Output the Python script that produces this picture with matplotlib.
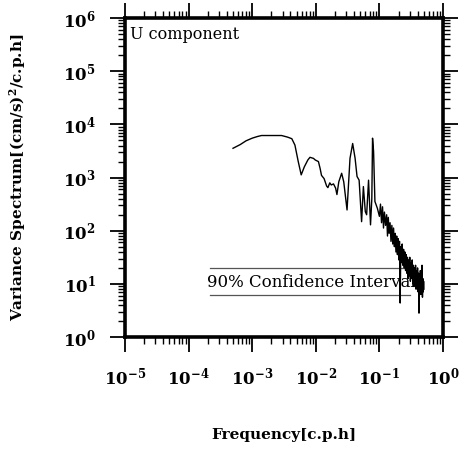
import numpy as np
import matplotlib
matplotlib.use("Agg")
import matplotlib.pyplot as plt
from matplotlib.ticker import LogLocator, FixedLocator, NullFormatter

plt.rcParams['font.family'] = ['DejaVu Serif']
plt.rcParams['mathtext.fontset'] = 'dejavuserif'

# spectrum: frequency [c.p.h] and log10 of variance
freq = [5.0e-4, 6.5e-4, 8.0e-4, 1.0e-3, 1.2e-3, 1.4e-3, 2.0e-3, 2.9e-3, 3.6e-3, 4.2e-3,
        4.7e-3, 5.3e-3, 5.9e-3, 6.6e-3, 7.5e-3, 8.1e-3, 9.2e-3, 9.8e-3, 1.10e-2, 1.17e-2,
        1.23e-2, 1.35e-2, 1.48e-2, 1.55e-2, 1.66e-2, 1.75e-2, 1.90e-2, 2.05e-2, 2.15e-2, 2.30e-2,
        2.55e-2, 2.75e-2, 3.10e-2, 3.45e-2, 3.80e-2, 4.15e-2, 4.45e-2, 4.80e-2, 5.25e-2, 5.60e-2,
        6.00e-2, 6.30e-2, 6.75e-2, 7.25e-2, 7.60e-2, 7.80e-2, 8.10e-2, 8.50e-2, 9.30e-2, 0.100,
        0.104, 0.108, 0.112, 0.116, 0.120, 0.125, 0.130, 0.134, 0.138, 0.142,
        0.147, 0.152, 0.157, 0.162, 0.167, 0.172, 0.177, 0.182, 0.187, 0.192,
        0.197, 0.202, 0.207, 0.212, 0.217, 0.222, 0.228, 0.234, 0.240, 0.246,
        0.252, 0.258, 0.264, 0.270, 0.276, 0.282, 0.288, 0.294, 0.300, 0.307,
        0.314, 0.321, 0.328, 0.335, 0.342, 0.349, 0.356, 0.363, 0.370, 0.377,
        0.384, 0.391, 0.398, 0.405, 0.412, 0.419, 0.426, 0.433, 0.440, 0.447,
        0.454, 0.461, 0.468, 0.475, 0.482, 0.489, 0.495, 0.500]
log_spec = [3.55, 3.62, 3.69, 3.74, 3.77, 3.79, 3.79, 3.79, 3.76, 3.73,
            3.61, 3.30, 3.05, 3.20, 3.33, 3.38, 3.36, 3.33, 3.30, 3.17,
            3.04, 2.98, 2.84, 2.81, 2.90, 2.86, 2.88, 2.80, 2.68, 2.92,
            3.08, 2.92, 2.39, 3.36, 3.64, 3.36, 3.02, 2.95, 2.17, 2.83,
            2.36, 2.30, 2.95, 2.11, 2.60, 3.74, 3.49, 2.55, 2.42, 2.27,
            2.50, 2.15, 2.45, 2.05, 2.35, 2.10, 2.30, 1.90, 2.25, 1.95,
            2.15, 1.80, 2.10, 1.75, 2.05, 1.70, 1.95, 1.60, 1.90, 1.55,
            1.85, 1.45, 1.80, 0.64, 1.70, 1.40, 1.75, 1.35, 1.65, 1.30,
            1.60, 1.25, 1.55, 1.20, 1.50, 1.10, 1.45, 1.15, 1.50, 1.05,
            1.40, 1.10, 1.45, 1.00, 1.35, 0.95, 1.30, 1.00, 1.35, 0.90,
            1.25, 0.95, 1.30, 0.85, 1.20, 0.45, 1.15, 0.85, 1.25, 0.80,
            1.10, 0.85, 1.35, 0.75, 1.10, 0.85, 1.05, 0.90]

ci_freq = [2.2e-4, 0.3]
ci_upper = 20
ci_lower = 6.2

x_ticks = [1e-5, 1e-4, 1e-3, 1e-2, 1e-1, 1e0]
x_labels = [r'$\mathbf{10^{-5}}$', r'$\mathbf{10^{-4}}$', r'$\mathbf{10^{-3}}$',
            r'$\mathbf{10^{-2}}$', r'$\mathbf{10^{-1}}$', r'$\mathbf{10^{0}}$']
y_ticks = [1e0, 1e1, 1e2, 1e3, 1e4, 1e5, 1e6]
y_labels = [r'$\mathbf{10^{0}}$', r'$\mathbf{10^{1}}$', r'$\mathbf{10^{2}}$', r'$\mathbf{10^{3}}$',
            r'$\mathbf{10^{4}}$', r'$\mathbf{10^{5}}$', r'$\mathbf{10^{6}}$']

fig = plt.figure(figsize=(4.61, 4.50), dpi=100)
ax = fig.add_axes([0.271, 0.251, 0.690, 0.709])

spec = 10 ** np.array(log_spec)
ax.plot(freq, spec, color='black', lw=1.0, zorder=3)

ax.plot(ci_freq, [ci_upper, ci_upper], color='#555555', lw=0.9, zorder=2)
ax.plot(ci_freq, [ci_lower, ci_lower], color='#555555', lw=0.9, zorder=2)
ax.text(1.95e-4, 10.5, '90% Confidence Interval', fontsize=12, va='center', ha='left', zorder=1)

ax.set_xscale('log')
ax.set_yscale('log')
ax.set_xlim(1e-5, 1e0)
ax.set_ylim(1e0, 1e6)

ax.xaxis.set_major_locator(FixedLocator(x_ticks))
ax.yaxis.set_major_locator(FixedLocator(y_ticks))
ax.set_xticklabels(x_labels)
ax.set_yticklabels(y_labels)
ax.xaxis.set_minor_locator(LogLocator(base=10, subs=np.arange(2, 10), numticks=20))
ax.yaxis.set_minor_locator(LogLocator(base=10, subs=np.arange(2, 10), numticks=20))
ax.xaxis.set_minor_formatter(NullFormatter())
ax.yaxis.set_minor_formatter(NullFormatter())

ax.tick_params(which='major', direction='out', length=11, width=1.3, labelsize=12,
               top=True, right=True, pad=10)
ax.tick_params(which='minor', direction='out', length=5, width=1.0, top=True, right=True)
for s in ax.spines.values():
    s.set_linewidth(2.6)

ax.text(0.016, 0.975, 'U component', transform=ax.transAxes, fontsize=11.5, va='top', ha='left')

ax.set_xlabel('Frequency[c.p.h]', fontsize=11, fontweight='bold')
ax.set_ylabel(r'Variance Spectrum[(cm/s)$^\mathbf{2}$/c.p.h]', fontsize=11, fontweight='bold')
ax.xaxis.set_label_coords(0.5, -0.285)
ax.yaxis.set_label_coords(-0.305, 0.5)

fig.savefig('out.png', dpi=100)
